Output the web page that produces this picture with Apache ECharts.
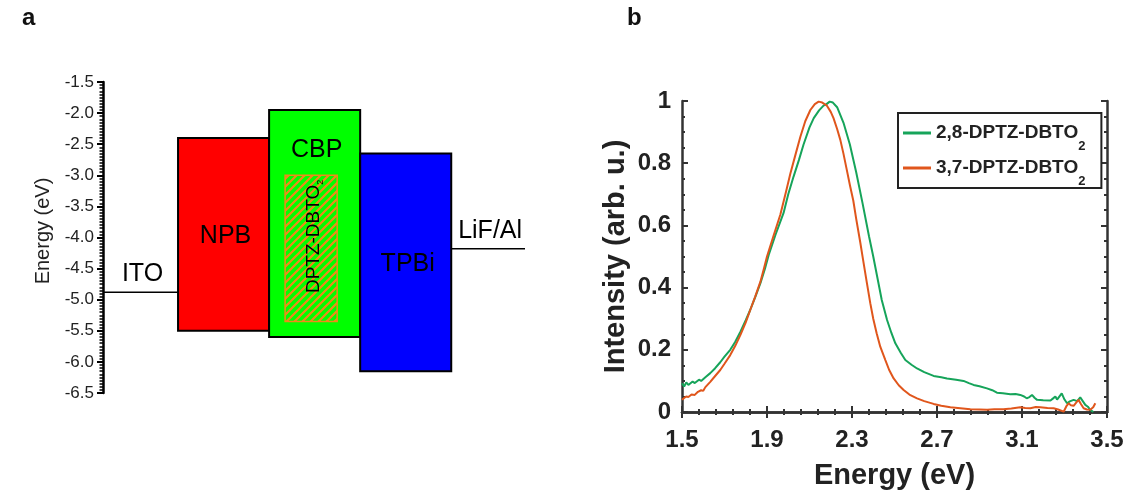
<!DOCTYPE html>
<html><head><meta charset="utf-8">
<script src="https://cdn.jsdelivr.net/npm/echarts@6/dist/echarts.min.js"></script>
<style>html,body{margin:0;padding:0;background:#fff}#c{width:1130px;height:495px}</style>
</head><body><div id="c"></div>
<script>
// ---------- Panel a: energy level diagram ----------
const boxLayers = ['NPB', 'CBP', 'TPBi'];
const boxSlot   = [1, 2, 3];
const boxLUMO   = [-2.40, -1.95, -2.65];
const boxHOMO   = [-5.50, -5.60, -6.15];
const electrodes      = ['ITO', 'LiF/Al'];
const electrodeSlot   = [0, 4];
const electrodeLevel  = [-4.88, -4.18];
const dopantName  = 'DPTZ-DBTO2';
const dopantHost  = 2;
const dopantLUMO  = -3.00;
const dopantHOMO  = -5.35;

// ---------- Panel b: PL spectra ----------
const seriesNames = ['2,8-DPTZ-DBTO2', '3,7-DPTZ-DBTO2'];
const e28 = [1.50,1.51,1.52,1.53,1.55,1.56,1.58,1.59,1.61,1.633,1.655,1.68,1.70,1.727,1.75,1.775,1.80,1.821,1.845,1.869,1.89,1.908,1.94,1.978,2.00,2.025,2.05,2.072,2.10,2.12,2.145,2.166,2.18,2.195,2.21,2.23,2.26,2.29,2.32,2.35,2.38,2.40,2.42,2.44,2.465,2.485,2.504,2.53,2.551,2.58,2.606,2.64,2.684,2.72,2.747,2.79,2.825,2.85,2.872,2.90,2.935,2.96,2.982,3.01,3.045,3.07,3.092,3.11,3.122,3.135,3.147,3.16,3.171,3.20,3.234,3.245,3.257,3.265,3.273,3.287,3.30,3.312,3.325,3.343,3.36,3.374,3.386,3.398,3.41,3.421,3.436];
const i28 = [0.092,0.082,0.095,0.087,0.098,0.093,0.104,0.100,0.112,0.125,0.140,0.160,0.178,0.200,0.225,0.258,0.295,0.328,0.370,0.414,0.460,0.505,0.570,0.640,0.700,0.757,0.810,0.860,0.915,0.945,0.970,0.985,0.990,0.998,0.995,0.980,0.930,0.860,0.770,0.670,0.565,0.500,0.430,0.360,0.296,0.255,0.221,0.190,0.167,0.152,0.140,0.128,0.116,0.112,0.108,0.104,0.100,0.093,0.087,0.083,0.076,0.070,0.062,0.060,0.057,0.058,0.055,0.050,0.044,0.048,0.055,0.045,0.039,0.038,0.037,0.043,0.050,0.040,0.034,0.060,0.040,0.028,0.034,0.039,0.035,0.047,0.035,0.023,0.017,0.007,0.000];
const e37 = [1.50,1.51,1.52,1.53,1.545,1.56,1.575,1.59,1.60,1.61,1.633,1.655,1.68,1.70,1.727,1.75,1.775,1.80,1.821,1.845,1.869,1.885,1.90,1.93,1.963,1.99,2.01,2.035,2.057,2.08,2.104,2.125,2.143,2.16,2.182,2.20,2.213,2.23,2.245,2.26,2.275,2.29,2.306,2.32,2.339,2.352,2.37,2.386,2.40,2.416,2.433,2.457,2.475,2.496,2.52,2.543,2.57,2.606,2.64,2.684,2.72,2.763,2.81,2.857,2.90,2.936,2.97,3.012,3.05,3.092,3.115,3.139,3.165,3.186,3.22,3.249,3.27,3.296,3.31,3.319,3.33,3.343,3.355,3.366,3.378,3.39,3.405,3.421,3.435,3.445];
const i37 = [0.039,0.045,0.050,0.048,0.056,0.055,0.065,0.070,0.068,0.080,0.097,0.115,0.135,0.155,0.183,0.212,0.248,0.288,0.328,0.372,0.419,0.460,0.500,0.565,0.635,0.710,0.767,0.830,0.885,0.935,0.971,0.990,0.998,0.995,0.985,0.965,0.945,0.910,0.875,0.830,0.780,0.730,0.680,0.620,0.545,0.490,0.415,0.350,0.300,0.253,0.210,0.167,0.135,0.108,0.086,0.071,0.056,0.044,0.035,0.026,0.020,0.015,0.012,0.009,0.008,0.007,0.009,0.009,0.011,0.015,0.013,0.012,0.016,0.015,0.013,0.012,0.008,0.001,0.020,0.028,0.022,0.020,0.030,0.039,0.025,0.012,0.008,0.007,0.015,0.028];

// ---------- styles ----------
const boxColors = {NPB: '#ff0000', CBP: '#00ff00', TPBi: '#0000ff'};
const hatchColor = '#ef8a1a';
const lineColors = ['#16a45a', '#e0561c'];
const AF = 'Liberation Sans, Arial, sans-serif';

function makeHatch() {
  const s = 8, c = document.createElement('canvas');
  c.width = s; c.height = s;
  const g = c.getContext('2d');
  g.strokeStyle = hatchColor; g.lineWidth = 2.2;
  g.beginPath();
  g.moveTo(0, s); g.lineTo(s, 0);
  g.moveTo(-2, 2); g.lineTo(2, -2);
  g.moveTo(s - 2, s + 2); g.lineTo(s + 2, s - 2);
  g.stroke();
  return c;
}
const hatchPattern = {image: makeHatch(), repeat: 'repeat'};

function renderBox(params, api) {
  const slot = api.value(0);
  const p0 = api.coord([slot, api.value(1)]);
  const p1 = api.coord([slot + 1, api.value(2)]);
  const name = boxLayers[params.dataIndex];
  const x = p0[0], y = p0[1], w = p1[0] - p0[0], h = p1[1] - p0[1];
  const ty = name === 'CBP' ? y + 40 : y + h / 2 + 2;
  return {type: 'group', children: [
    {type: 'rect', shape: {x, y, width: w, height: h},
     style: {fill: boxColors[name], stroke: '#000', lineWidth: 2}},
    {type: 'text', z2: 10, style: {text: name, x: x + w / 2 + 2, y: ty, align: 'center', verticalAlign: 'middle',
      fontFamily: AF, fontSize: 25, fill: '#000'}}
  ]};
}

function renderDopant(params, api) {
  const slot = api.value(0);
  const p0 = api.coord([slot, api.value(1)]);
  const p1 = api.coord([slot + 1, api.value(2)]);
  const x = p0[0] + 16, w = (p1[0] - 23) - x;
  const y = p0[1], h = p1[1] - p0[1];
  const base = dopantName.slice(0, -1), sub = dopantName.slice(-1);
  return {type: 'group', children: [
    {type: 'rect', shape: {x, y, width: w, height: h}, style: {fill: hatchPattern, stroke: hatchColor, lineWidth: 1.5}},
    {type: 'text', x: x + w / 2 + 3, y: y + h / 2 - 12, rotation: Math.PI / 2, z2: 10,
     style: {text: '{a|' + base + '}{s|' + sub + '}', align: 'center', verticalAlign: 'middle',
       rich: {a: {fontFamily: AF, fontSize: 19, fill: '#000'},
              s: {fontFamily: AF, fontSize: 9, fill: '#000', padding: [12, 0, 0, 0]}}}}
  ]};
}

function renderElectrode(params, api) {
  const slot = api.value(0);
  const cs = params.coordSys;
  const a = api.coord([slot, api.value(1)]);
  const b = api.coord([slot + 1, api.value(1)]);
  const x0 = Math.max(a[0], cs.x), x1 = Math.min(b[0], cs.x + cs.width);
  const name = electrodes[params.dataIndex];
  return {type: 'group', children: [
    {type: 'line', shape: {x1: x0, y1: a[1], x2: x1, y2: a[1]}, style: {stroke: '#000', lineWidth: 1.5}},
    {type: 'text', style: {text: name, x: (x0 + x1) / 2 + 2, y: a[1] - 18, align: 'center', verticalAlign: 'middle',
      fontFamily: AF, fontSize: 25, fill: '#000'}}
  ]};
}

const chart = echarts.init(document.getElementById('c'), null, {renderer: 'canvas'});
const axisDark = '#333';
const bLabel = {fontFamily: AF, fontWeight: 'bold', fontSize: 24, color: '#222'};
const bName = {fontFamily: AF, fontWeight: 'bold', fontSize: 29, color: '#222'};
const bTick = {show: true, inside: true, length: 6, lineStyle: {color: axisDark, width: 2}};
const bLine = {show: true, lineStyle: {color: axisDark, width: 2.5}};

chart.setOption({
  animation: false,
  backgroundColor: '#fff',
  title: [
    {text: 'a', left: 22, top: 6, padding: 0, textStyle: {fontFamily: AF, fontWeight: 'bold', fontSize: 24, color: '#111'}},
    {text: 'b', left: 627, top: 6, padding: 0, textStyle: {fontFamily: AF, fontWeight: 'bold', fontSize: 24, color: '#111'}}
  ],
  grid: [
    {left: 103, top: 82, width: 422, height: 311},
    {left: 682, top: 101, width: 425, height: 311}
  ],
  xAxis: [
    {type: 'value', gridIndex: 0, min: 0.176, max: 4.81, show: false},
    {type: 'value', gridIndex: 1, position: 'bottom', min: 1.5, max: 3.5, interval: 0.4,
     axisLine: bLine, axisTick: bTick,
     minorTick: {show: true, splitNumber: 5, length: 3, lineStyle: {color: axisDark, width: 2}},
     splitLine: {show: false}, minorSplitLine: {show: false},
     axisLabel: Object.assign({margin: 16, formatter: v => v.toFixed(1)}, bLabel),
     name: 'Energy (eV)', nameLocation: 'middle', nameGap: 49, nameTextStyle: bName},
    {type: 'value', gridIndex: 1, position: 'top', min: 1.5, max: 3.5, interval: 0.4,
     axisLine: bLine, axisTick: bTick,
     minorTick: {show: true, splitNumber: 5, length: 3, lineStyle: {color: axisDark, width: 2}},
     splitLine: {show: false}, axisLabel: {show: false}}
  ],
  yAxis: [
    {type: 'value', gridIndex: 0, min: -6.5, max: -1.5, interval: 0.5,
     axisLine: {show: true, lineStyle: {color: '#000', width: 2.5}},
     axisTick: {show: true, inside: false, length: 6, lineStyle: {color: '#000', width: 2}},
     minorTick: {show: true, splitNumber: 10, length: 3.5, lineStyle: {color: '#000', width: 1.5}},
     splitLine: {show: false}, minorSplitLine: {show: false},
     axisLabel: {margin: 9, fontFamily: AF, fontSize: 17, color: '#222', formatter: v => v.toFixed(1)},
     name: 'Energy (eV)', nameLocation: 'middle', nameGap: 50,
     nameTextStyle: {fontFamily: AF, fontSize: 20, color: '#222', padding: [0, 0, 0, 13]}},
    {type: 'value', gridIndex: 1, position: 'left', min: 0, max: 1, interval: 0.2,
     axisLine: bLine, axisTick: bTick,
     minorTick: {show: true, splitNumber: 4, length: 3, lineStyle: {color: axisDark, width: 2}},
     splitLine: {show: false}, minorSplitLine: {show: false},
     axisLabel: Object.assign({margin: 11, formatter: v => (v === 0 || v === 1) ? String(v) : v.toFixed(1)}, bLabel),
     name: 'Intensity (arb. u.)', nameLocation: 'middle', nameGap: 52, nameTextStyle: bName},
    {type: 'value', gridIndex: 1, position: 'right', min: 0, max: 1, interval: 0.2,
     axisLine: bLine, axisTick: bTick,
     minorTick: {show: true, splitNumber: 4, length: 3, lineStyle: {color: axisDark, width: 2}},
     splitLine: {show: false}, axisLabel: {show: false}}
  ],
  legend: {
    orient: 'vertical', left: 898, top: 113, selectedMode: false,
    data: seriesNames, icon: 'rect', itemWidth: 28, itemHeight: 3, itemGap: -5,
    padding: [0, 16, 0, 5], borderColor: '#222', borderWidth: 2, backgroundColor: '#fff',
    formatter: n => '{a|' + n.slice(0, -1) + '}{s|' + n.slice(-1) + '}',
    textStyle: {rich: {
      a: {fontFamily: AF, fontWeight: 'bold', fontSize: 19, lineHeight: 19, color: '#222'},
      s: {fontFamily: AF, fontWeight: 'bold', fontSize: 13, lineHeight: 13, color: '#222', padding: [27, 0, 0, 0]}
    }}
  },
  series: [
    {type: 'custom', xAxisIndex: 0, yAxisIndex: 0, clip: false, renderItem: renderBox,
     encode: {x: 0, y: [1, 2]},
     data: boxLayers.map((n, i) => ({name: n, value: [boxSlot[i], boxLUMO[i], boxHOMO[i]]}))},
    {type: 'custom', xAxisIndex: 0, yAxisIndex: 0, clip: false, renderItem: renderDopant, z: 3,
     encode: {x: 0, y: [1, 2]},
     data: [{name: dopantName, value: [dopantHost, dopantLUMO, dopantHOMO]}]},
    {type: 'custom', xAxisIndex: 0, yAxisIndex: 0, clip: false, renderItem: renderElectrode,
     encode: {x: 0, y: 1},
     data: electrodes.map((n, i) => ({name: n, value: [electrodeSlot[i], electrodeLevel[i]]}))},
    {type: 'line', name: seriesNames[0], xAxisIndex: 1, yAxisIndex: 1, showSymbol: false, symbol: 'none',
     color: lineColors[0], lineStyle: {width: 2, color: lineColors[0]},
     data: e28.map((e, i) => [e, i28[i]])},
    {type: 'line', name: seriesNames[1], xAxisIndex: 1, yAxisIndex: 1, showSymbol: false, symbol: 'none',
     color: lineColors[1], lineStyle: {width: 2, color: lineColors[1]},
     data: e37.map((e, i) => [e, i37[i]])}
  ]
});
</script></body></html>
